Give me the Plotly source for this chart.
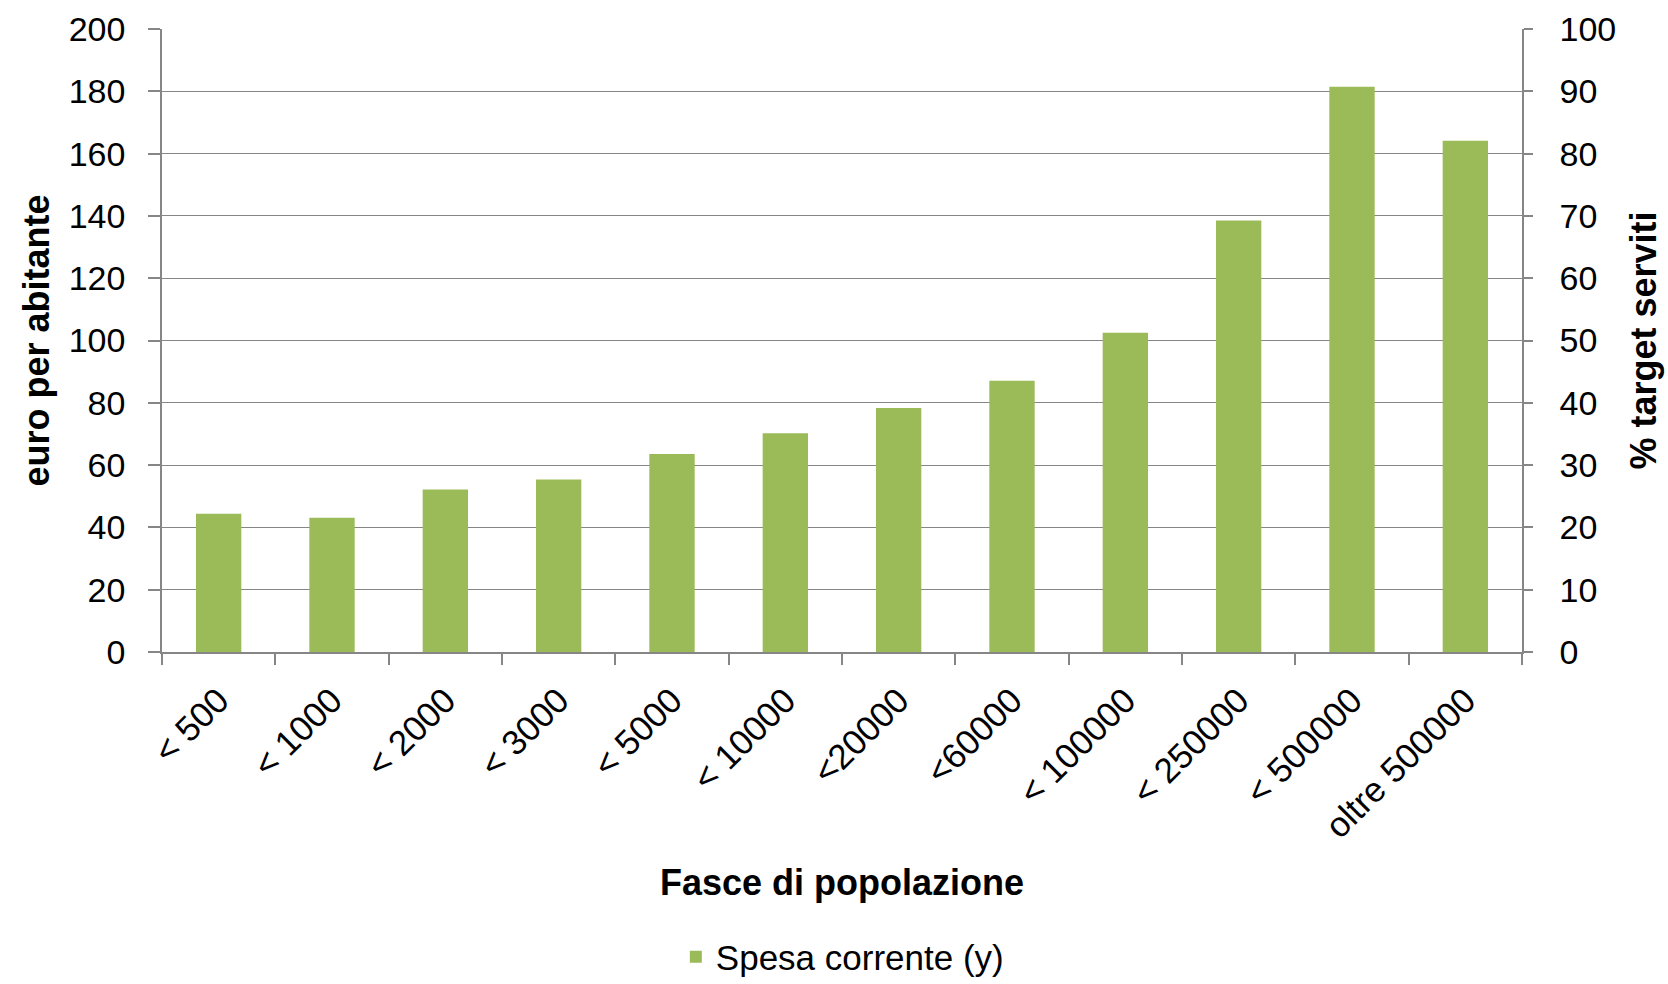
import plotly.graph_objects as go

categories = ["< 500", "< 1000", "< 2000", "< 3000", "< 5000", "< 10000", "<20000",
              "<60000", "< 100000", "< 250000", "< 500000", "oltre 500000"]
spesa_corrente = [44.4, 43.1, 52.2, 55.4, 63.6, 70.2, 78.3, 87.1, 102.5, 138.5, 181.5, 164.1]
y_ticks = [0, 20, 40, 60, 80, 100, 120, 140, 160, 180, 200]
y2_ticks = [0, 10, 20, 30, 40, 50, 60, 70, 80, 90, 100]

FONT = "Liberation Sans, Arial, sans-serif"
GRID = "#868686"
BAR = "#9BBB59"

fig = go.Figure()
fig.add_trace(go.Bar(x=categories, y=spesa_corrente, name="Spesa corrente (y)",
                     marker=dict(color=BAR, line=dict(width=0))))
# helper trace so the secondary axis is drawn
fig.add_trace(go.Scatter(x=categories, y=[None] * len(categories), yaxis="y2",
                         showlegend=False, hoverinfo="skip", mode="lines"))

fig.update_layout(
    width=1668, height=984,
    margin=dict(l=162, r=146, t=29, b=332, autoexpand=False),
    paper_bgcolor="white", plot_bgcolor="white",
    font=dict(family=FONT, size=34, color="black"),
    bargap=0.6,
    showlegend=True,
    legend=dict(orientation="h", x=0.505, xanchor="center", xref="container",
                y=1 - 957 / 984, yanchor="middle", yref="container",
                font=dict(size=35), bgcolor="rgba(0,0,0,0)"),
    xaxis=dict(type="category", tickson="boundaries", ticks="outside", ticklen=11,
               tickcolor=GRID, tickwidth=1.5, showline=True, linecolor=GRID, linewidth=1.5,
               tickangle=-45, tickfont=dict(size=35), showgrid=False, zeroline=False,
               ticklabelstandoff=12, automargin=False),
    yaxis=dict(range=[0, 200], tickvals=y_ticks, ticks="outside", ticklen=12,
               tickcolor=GRID, tickwidth=1.5, showline=True, linecolor=GRID, linewidth=1.5,
               gridcolor=GRID, gridwidth=1.3, zeroline=False, tickfont=dict(size=34),
               ticklabelstandoff=16, automargin=False),
    yaxis2=dict(range=[0, 100], tickvals=y2_ticks, overlaying="y", side="right",
                anchor="x", ticks="outside", ticklen=9, tickcolor=GRID, tickwidth=1.5,
                showline=True, linecolor=GRID, linewidth=1.5, showgrid=False,
                zeroline=False, tickfont=dict(size=34), ticklabelstandoff=20,
                automargin=False),
    annotations=[
        dict(text="<b>Fasce di popolazione</b>", xref="paper", yref="paper", x=0.5, y=0,
             xanchor="center", yanchor="middle", yshift=-230, showarrow=False,
             font=dict(size=36)),
        dict(text="<b>euro per abitante</b>", xref="paper", yref="paper", x=0, y=0.5,
             xanchor="center", yanchor="middle", xshift=-126, textangle=-90,
             showarrow=False, font=dict(size=36)),
        dict(text="<b>% target serviti</b>", xref="paper", yref="paper", x=1, y=0.5,
             xanchor="center", yanchor="middle", xshift=121, textangle=-90,
             showarrow=False, font=dict(size=36)),
    ],
)

fig.write_html("out.html", config={"displayModeBar": False})

with open("out.html", "r", encoding="utf-8") as f:
    html = f.read()
html = html.replace("<head>", "<head><style>body{margin:0;padding:0;overflow:hidden}</style>", 1)
with open("out.html", "w", encoding="utf-8") as f:
    f.write(html)
